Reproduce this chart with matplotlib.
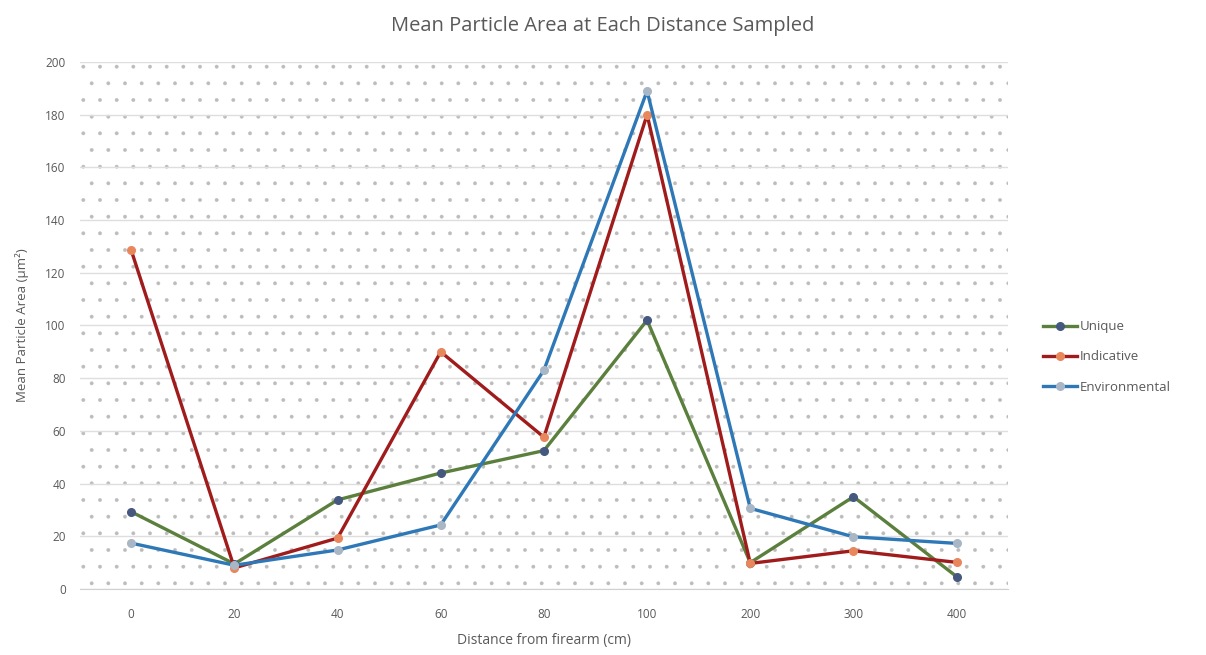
import matplotlib
matplotlib.use('Agg')
import matplotlib.pyplot as plt

# Data
distances = ['0', '20', '40', '60', '80', '100', '200', '300', '400']
unique = [29.3, 9.5, 33.8, 44.0, 52.5, 102.0, 10.0, 35.0, 4.7]
indicative = [128.6, 8.0, 19.3, 90.0, 57.6, 180.0, 9.7, 14.5, 10.1]
environmental = [17.4, 9.0, 14.8, 24.3, 83.0, 189.0, 30.6, 19.8, 17.3]
y_ticks = [0, 20, 40, 60, 80, 100, 120, 140, 160, 180, 200]

series = [
    ('Unique', unique, '#5b7f3c', '#45587f'),
    ('Indicative', indicative, '#a01c1c', '#e9875c'),
    ('Environmental', environmental, '#2f78b7', '#a9b6c6'),
]

plt.rcParams['font.family'] = ['Open Sans', 'DejaVu Sans']
plt.rcParams['hatch.color'] = '#bcbcbc'
plt.rcParams['hatch.linewidth'] = 0.3
text_color = '#595959'

fig = plt.figure(figsize=(12.06, 6.55), dpi=100)
ax = fig.add_axes([0.066, 0.1008, 0.770, 0.8046])

# dotted background pattern
ax.patch.set_facecolor('white')
ax.patch.set_hatch('.')
ax.patch.set_edgecolor('#bcbcbc')
ax.patch.set_linewidth(0)

x = list(range(len(distances)))
for name, vals, line_c, mark_c in series:
    ax.plot(x, vals, color=line_c, linewidth=2.4, marker='o', markersize=5.5,
            markerfacecolor=mark_c, markeredgecolor=mark_c, label=name, zorder=3)

ax.set_xlim(-0.5, len(distances) - 0.5)
ax.set_ylim(0, 200)
ax.set_xticks(x)
ax.set_xticklabels(distances)
ax.set_yticks(y_ticks)
ax.yaxis.grid(True, color='#dedede', linewidth=1.0)
ax.set_axisbelow(True)

for side in ['top', 'right', 'left']:
    ax.spines[side].set_visible(False)
ax.spines['bottom'].set_color('#d0d0d0')
ax.tick_params(axis='both', length=0, labelsize=8.5, colors=text_color, pad=10)
ax.tick_params(axis='x', pad=14)

ax.set_xlabel('Distance from firearm (cm)', fontsize=10, color=text_color, labelpad=8)
ax.set_ylabel('Mean Particle Area (µm²)', fontsize=9.5, color=text_color, labelpad=12)
fig.suptitle('Mean Particle Area at Each Distance Sampled', fontsize=14.5,
             color=text_color, y=0.975)

fig.legend(loc='center left', bbox_to_anchor=(0.855, 0.455), frameon=False,
           fontsize=9.5, labelcolor=text_color, handlelength=2.6,
           handletextpad=0.15, labelspacing=1.3)

fig.savefig('out.png', dpi=100)
